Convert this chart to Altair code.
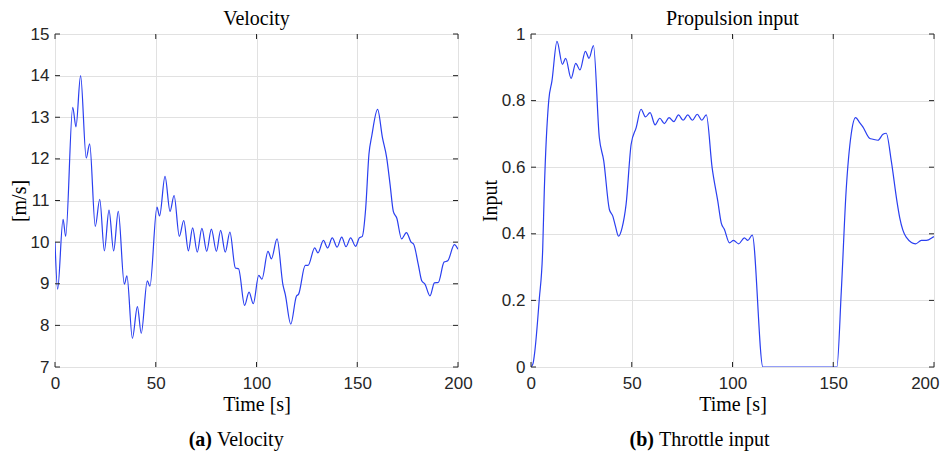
import altair as alt
import pandas as pd

# ---------------- data ----------------
vel_t = [0, 1.3, 4.0, 5.3, 8.8, 10.4, 12.7, 15.5, 17.2, 20.0, 22.2, 24.5, 26.8, 29.1, 31.4,
         34.4, 35.7, 38.4, 40.9, 42.8, 45.8, 47.1, 50.6, 51.9, 54.6, 57.1, 59.1, 61.7, 63.9,
         66.2, 68.3, 70.6, 72.9, 75.3, 77.6, 80.1, 82.2, 84.5, 86.8, 89.5, 91.1, 94.1, 96.3,
         98.4, 101.1, 102.7, 105.7, 107.4, 110.2, 113.1, 114.3, 117.0, 119.8, 120.9, 124.2,
         125.6, 128.9, 130.5, 133.2, 135.3, 137.6, 140.0, 142.3, 144.4, 146.7, 149.2, 151.0,
         152.5, 154.2, 155.8, 157.2, 160.1, 162.5, 164.6, 166.3, 167.9, 169.6, 172.0, 174.4,
         176.7, 178.0, 180.3, 182.0, 183.6, 186.1, 188.3, 190.2, 193.1, 194.9, 198.2, 200.0]
vel_v = [10.0, 8.87, 10.55, 10.14, 13.24, 12.77, 14.0, 12.02, 12.36, 10.38, 11.03, 9.79, 10.77,
         9.79, 10.74, 8.99, 9.19, 7.69, 8.45, 7.81, 9.07, 8.94, 10.84, 10.63, 11.58, 10.74,
         11.12, 10.14, 10.52, 9.79, 10.34, 9.76, 10.33, 9.78, 10.31, 9.78, 10.28, 9.76, 10.24,
         9.38, 9.36, 8.48, 8.8, 8.52, 9.2, 9.11, 9.78, 9.6, 10.08, 8.98, 8.74, 8.03, 8.7, 8.75,
         9.44, 9.44, 9.86, 9.74, 10.04, 9.86, 10.1, 9.88, 10.12, 9.89, 10.1, 9.9, 10.1, 10.14,
         10.82, 12.11, 12.55, 13.19, 12.51, 12.03, 11.38, 10.74, 10.58, 10.08, 10.23, 10.0,
         9.95, 9.46, 9.07, 8.99, 8.71, 9.02, 9.03, 9.52, 9.55, 9.94, 9.83]

thr_t = [0, 1.0, 1.7, 4.1, 5.8, 6.6, 8.8, 10.4, 12.9, 15.6, 17.2, 19.9, 22.2, 24.3, 27.0, 28.8,
         31.0, 33.9, 36.1, 38.9, 40.6, 41.9, 43.4, 45.2, 47.2, 49.7, 52.2, 54.6, 56.8, 59.1,
         61.6, 63.9, 66.2, 68.5, 70.9, 73.2, 75.5, 77.8, 80.1, 82.5, 84.8, 87.0, 89.9, 92.7,
         94.4, 96.0, 98.5, 100.5, 103.1, 105.9, 107.6, 109.8, 115.1, 151.8, 154.0, 156.4,
         158.9, 161.1, 163.1, 164.7, 168.0, 169.7, 172.2, 174.7, 176.3, 178.8, 181.6, 183.0,
         186.2, 190.9, 193.7, 196.2, 199.5, 200.0]
thr_u = [0, 0.01, 0.037, 0.203, 0.353, 0.53, 0.80, 0.859, 0.978, 0.909, 0.927, 0.867, 0.912,
         0.892, 0.948, 0.927, 0.965, 0.689, 0.619, 0.473, 0.453, 0.423, 0.393, 0.418, 0.489,
         0.669, 0.719, 0.774, 0.751, 0.764, 0.727, 0.747, 0.731, 0.749, 0.737, 0.757, 0.741,
         0.757, 0.741, 0.759, 0.741, 0.757, 0.598, 0.498, 0.433, 0.413, 0.373, 0.38, 0.37,
         0.388, 0.38, 0.396, 0.0, 0.0, 0.228, 0.53, 0.699, 0.749, 0.734, 0.721, 0.687, 0.684,
         0.681, 0.699, 0.702, 0.619, 0.498, 0.448, 0.39, 0.37, 0.38, 0.38, 0.39, 0.392]

x_ticks = [0, 50, 100, 150, 200]
vel_ticks = [7, 8, 9, 10, 11, 12, 13, 14, 15]
thr_ticks = [0, 0.2, 0.4, 0.6, 0.8, 1]

W, H = 403, 333
LINE = "#2a3ff0"
AX = "#262626"
SERIF = "Liberation Serif"
SANS = "Liberation Sans"


def panel(t, y, yname, ydom, yticks, title, ytitle, tag, caption, cap_x, flush):
    df = pd.DataFrame({"t": t, yname: y})
    xkw = dict(labelFlush=True, labelFlushOffset=5) if flush else dict(labelFlush=False)
    xaxis = alt.Axis(values=x_ticks, grid=True, ticks=False, domain=False,
                     title="Time [s]", titleFont=SERIF, titleFontSize=20,
                     titleFontWeight="normal", titleColor="black", titlePadding=3,
                     labelFont=SANS, labelFontSize=17, labelColor=AX, labelPadding=8,
                     gridColor="#e1e1e1", format="d", **xkw)
    yaxis = alt.Axis(values=yticks, grid=True, ticks=False, domain=False,
                     title=ytitle, titleFont=SERIF, titleFontSize=20,
                     titleFontWeight="normal", titleColor="black", titlePadding=1,
                     labelFont=SANS, labelFontSize=17, labelColor=AX, labelPadding=6,
                     gridColor="#e1e1e1", labelFlush=False, format="~g")
    xs = alt.Scale(domain=[0, 200], nice=False, zero=False)
    ys = alt.Scale(domain=ydom, nice=False, zero=False)
    X = alt.X("t:Q", scale=xs, axis=xaxis)
    Y = alt.Y(f"{yname}:Q", scale=ys, axis=yaxis)

    line = alt.Chart(df).mark_line(color=LINE, strokeWidth=1.2,
                                   interpolate="monotone", clip=True).encode(x=X, y=Y)

    xt = pd.DataFrame({"t": x_ticks})
    yt = pd.DataFrame({yname: yticks})
    tb = alt.Chart(xt).mark_rule(color=AX, strokeWidth=1).encode(
        x=X, y=alt.value(H), y2=alt.value(H - 5))
    tt = alt.Chart(xt).mark_rule(color=AX, strokeWidth=1).encode(
        x=X, y=alt.value(0), y2=alt.value(5))
    tl = alt.Chart(yt).mark_rule(color=AX, strokeWidth=1).encode(
        y=Y, x=alt.value(0), x2=alt.value(5))
    tr = alt.Chart(yt).mark_rule(color=AX, strokeWidth=1).encode(
        y=Y, x=alt.value(W), x2=alt.value(W - 5))

    cap = pd.DataFrame({"tag": [tag], "cap": [caption]})
    c1 = alt.Chart(cap).mark_text(font=SERIF, fontSize=20, fontWeight="bold",
                                  align="right", baseline="alphabetic", color="black").encode(
        text="tag:N", x=alt.value(cap_x), y=alt.value(H + 79))
    c2 = alt.Chart(cap).mark_text(font=SERIF, fontSize=20, align="left",
                                  baseline="alphabetic", color="black").encode(
        text="cap:N", x=alt.value(cap_x + 5), y=alt.value(H + 79))

    return alt.layer(line, tb, tt, tl, tr, c1, c2).properties(
        width=W, height=H,
        title=alt.TitleParams(title, font=SERIF, fontSize=20, fontWeight="normal",
                              color="black", offset=-4, anchor="middle"))


left = panel(vel_t, vel_v, "v", [7, 15], vel_ticks, "Velocity", "[m/s]", "(a)", "Velocity",
             157, False)
right = panel(thr_t, thr_u, "u", [0, 1], thr_ticks, "Propulsion input", "Input", "(b)",
              "Throttle input", 123, True)

chart = alt.hconcat(left, right, spacing=6).properties(
    padding={"left": 0, "top": 0, "right": 0, "bottom": 0}
).configure_view(stroke=AX, strokeWidth=1).configure(background="white")

chart.save("out.html", embed_options={"renderer": "svg", "actions": False})
